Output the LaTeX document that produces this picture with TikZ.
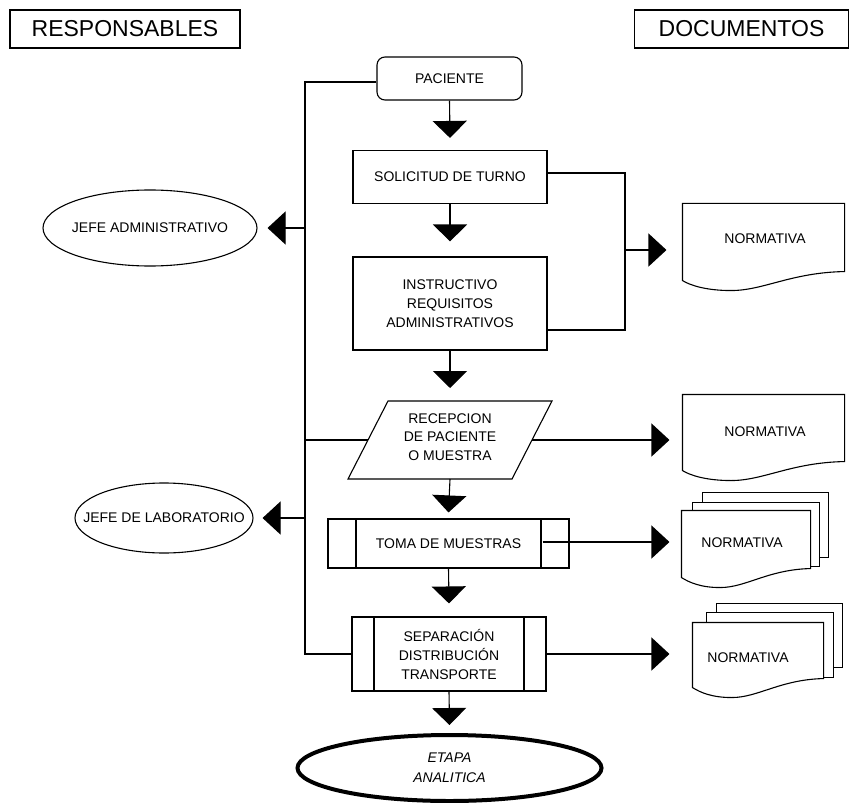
\documentclass[tikz,border=0pt]{standalone}
\usepackage{fontspec}
\setmainfont{Liberation Sans}
\usetikzlibrary{arrows.meta,shapes.geometric,calc}
\newcommand\docoutline[1]{%
  \draw[fill=white] (#1.north west) -- (#1.north east) -- ([yshift=9pt]#1.south east)
  .. controls ($(#1.south east)!0.33!(#1.south west)+(0,-8)$) and ($(#1.south west)!0.5!(#1.south east)+(0,10)$) .. ($(#1.south west)!0.3!(#1.south east)+(0,10)$)
  .. controls ($(#1.south west)!0.15!(#1.south east)+(0,10)$) and ($(#1.south west)+(8,5)$) .. (#1.south west) -- cycle;}
\begin{document}
\begin{tikzpicture}[x=1pt,y=-1pt,line width=1.1pt,
  lbl/.style={font=\fontsize{14}{19}\selectfont, align=center},
  head/.style={draw, font=\fontsize{23}{27}\selectfont, minimum height=38, inner sep=0},
  stepbox/.style 2 args={draw, minimum width=#1, minimum height=#2, inner sep=0, lbl},
  sidebars/.style={path picture={
      \draw ([xshift=#1]path picture bounding box.north west) -- ([xshift=#1]path picture bounding box.south west);
      \draw ([xshift=-#1]path picture bounding box.north east) -- ([xshift=-#1]path picture bounding box.south east);}},
  ell/.style 2 args={draw, ellipse, minimum width=#1, minimum height=#2, inner sep=0},
  docbody/.style 2 args={minimum width=#1, minimum height=#2, inner sep=0},
  darr/.style={-{Triangle[width=34pt,length=17pt]}},
  harr/.style={-{Triangle[width=33pt,length=18pt]}}
]
\useasboundingbox (0,0) rectangle (850,802);

% headings
\node[head, minimum width=230] (resp) at (125,29) {RESPONSABLES};
\node[head, minimum width=214] (docu) at (741.5,29) {DOCUMENTOS};

% main flow
\node[stepbox={145}{43}, rounded corners=8pt] (pac) at (449.5,78.5) {PACIENTE};
\node[stepbox={194}{53}] (sol) at (450,177) {SOLICITUD DE TURNO};
\node[stepbox={194}{93}] (ins) at (450,303.5) {INSTRUCTIVO\\REQUISITOS\\ADMINISTRATIVOS};
\coordinate (recTL) at (388,401);
\coordinate (recTR) at (552,401);
\coordinate (recBR) at (512,479);
\coordinate (recBL) at (348,479);
\draw (recTL) -- (recTR) -- (recBR) -- (recBL) -- cycle;
\node[lbl, font=\fontsize{14}{18.5}\selectfont] (rec) at (450,437) {RECEPCION\\DE PACIENTE\\O MUESTRA};
\coordinate (recL) at ($(recTL)!0.5!(recBL)$);
\coordinate (recR) at ($(recTR)!0.5!(recBR)$);
\coordinate (recS) at (450,479);
\node[stepbox={241}{49}, sidebars=28pt] (toma) at (448.5,543.5) {TOMA DE MUESTRAS};
\node[stepbox={194}{74}, sidebars=22pt] (sep) at (449,654) {SEPARACIÓN\\DISTRIBUCIÓN\\TRANSPORTE};
\node[ell={304}{66}, line width=4pt,
  label={[lbl, font=\fontsize{14}{20}\selectfont\itshape]center:ETAPA\\ANALITICA}] (etapa) at (449.5,768) {};

% responsables
\node[ell={214}{76}, label={[lbl]center:JEFE ADMINISTRATIVO}] (jadm) at (150,228) {};
\node[ell={178}{70}, label={[lbl]center:JEFE DE LABORATORIO}] (jlab) at (164,518) {};

% documents
\node[docbody={161}{76}] (d1) at (763.5,242) {};
\docoutline{d1}
\node[lbl] (d1t) at (765,239) {NORMATIVA};
\node[docbody={161}{75}] (d2) at (763.5,432.5) {};
\docoutline{d2}
\node[lbl] (d2t) at (765,432) {NORMATIVA};
\node[docbody={128}{66}] (d3) at (746,544) {};
\draw[fill=white] ([shift={(21,-18)}]d3.north west) rectangle ([shift={(18,-20)}]d3.south east);
\draw[fill=white] ([shift={(11,-8)}]d3.north west) rectangle ([shift={(9,-11)}]d3.south east);
\docoutline{d3}
\node[lbl] (d3t) at (742,543) {NORMATIVA};
\node[docbody={130}{64}] (d4) at (758,655) {};
\draw[fill=white] ([shift={(24,-19)}]d4.north west) rectangle ([shift={(19,-20)}]d4.south east);
\draw[fill=white] ([shift={(14,-10)}]d4.north west) rectangle ([shift={(10,-10)}]d4.south east);
\docoutline{d4}
\node[lbl] (d4t) at (748,658) {NORMATIVA};

% spine on the left
\coordinate (spTop) at (305,82);
\coordinate (spBot) at (spTop |- sep.west);
\draw ([yshift=-3.5pt]pac.west) -- (spTop) -- (spBot) -- (sep.west);
\draw (spTop |- recL) -- (recL);
\draw[harr] (spTop |- jadm) -- ([xshift=10pt]jadm.east);
\draw[harr] (spTop |- jlab) -- ([xshift=9pt]jlab.east);

% vertical arrows
\draw[darr] (pac.south) -- ([yshift=12pt]sol.north);
\draw[darr] (sol.south) -- ([yshift=15pt]ins.north);
\draw[darr] (ins.south) -- ([yshift=13pt]recS |- recTL);
\draw[darr] (recS) -- ([yshift=6pt]toma.north);
\draw[darr] (toma.south) -- ([yshift=13pt]sep.north);
\draw[darr] (sep.south) -- ([yshift=8pt]etapa.north);

% right connectors
\coordinate (jR1) at (625,173);
\coordinate (jR2) at (jR1 |- 0,330);
\draw ([yshift=4pt]sol.east) -- (jR1) -- (jR2) -- ([yshift=-26.5pt]ins.east);
\draw[harr] (jR1 |- 0,250) -- ([xshift=-16pt]d1.west |- 0,250);
\draw[harr] (recR) -- ([xshift=-13pt]d2.west |- recR);
\draw[harr] ([xshift=-27pt,yshift=1.5pt]toma.east) -- ([xshift=-12pt,yshift=1.5pt]d3.west |- toma.east);
\draw[harr] (sep.east) -- ([xshift=-23pt]d4.west |- sep.east);
\end{tikzpicture}
\end{document}
